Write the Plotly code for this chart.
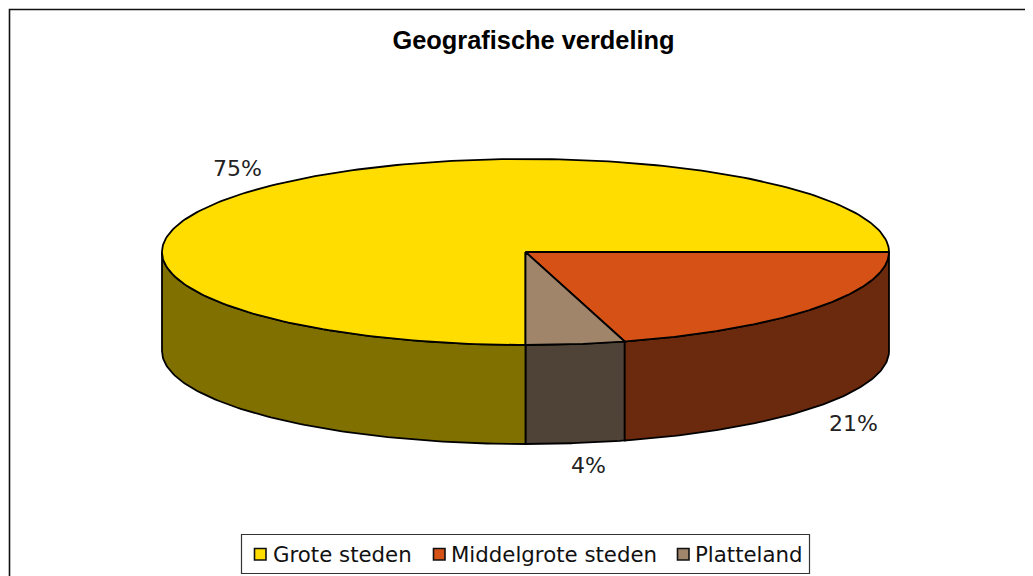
import numpy as np
import plotly.graph_objects as go

categories = ["Grote steden", "Middelgrote steden", "Platteland"]
values = [75.0, 20.6, 4.4]
labels = ["75%", "21%", "4%"]
top_colors = ["#FFDD00", "#D55116", "#A0856B"]
side_colors = ["#807000", "#6B2A0D", "#4F4236"]

# The page keeps an 8px body margin, so the figure covers 8..1033 and 8..576.
W, H, PAGE = 1033, 576, 8
CX, CY, RX, RY, DEPTH = 525.5, 252, 363.5, 93, 99
OUT = "#000000"
FONT = "'DejaVu Sans', sans-serif"

fig = go.Figure()


def pt(theta, drop=0.0):
    # theta: degrees clockwise from 12 o'clock
    t = np.radians(theta)
    return CX + RX * np.sin(t), CY - RY * np.cos(t) + drop


# slices start at 6 o'clock and run clockwise
edges = 180 + np.cumsum([0] + values) * 3.6


def poly(xs, ys, fill, lw=1.8):
    fig.add_trace(go.Scatter(x=xs, y=ys, mode="lines", fill="toself", fillcolor=fill,
                             line=dict(color=OUT, width=lw), hoverinfo="skip",
                             showlegend=False))


# side walls: only the front half of the rim (90..270 degrees) is visible
for i in range(len(values) - 1, -1, -1):
    a0, a1 = edges[i], edges[i + 1]
    for s, e in [(a0, a1), (a0 - 360, a1 - 360)]:
        s2, e2 = max(s, 90), min(e, 270)
        if e2 > s2:
            th = np.linspace(s2, e2, 90)
            xt, yt = pt(th)
            xb, yb = pt(th[::-1], DEPTH)
            poly(np.r_[xt, xb, xt[0]], np.r_[yt, yb, yt[0]], side_colors[i])

# top faces
for i in range(len(values)):
    th = np.linspace(edges[i], edges[i + 1], 240)
    xt, yt = pt(th)
    poly(np.r_[CX, xt, CX], np.r_[CY, yt, CY], top_colors[i])

# data labels
label_font = dict(family=FONT, size=22, color="#222222")
for txt, lx, ly in zip(labels, [237, 853, 588], [168, 423, 465]):
    fig.add_annotation(x=lx, y=ly, text=txt, showarrow=False, font=label_font,
                       xref="x", yref="y")

fig.update_layout(
    width=W - PAGE, height=H - PAGE, margin=dict(l=0, r=0, t=0, b=0),
    paper_bgcolor="white", plot_bgcolor="white", showlegend=False,
    xaxis=dict(range=[PAGE, W], visible=False, fixedrange=True),
    yaxis=dict(range=[H, PAGE], visible=False, fixedrange=True),
    title=dict(text="<b>Geografische verdeling</b>", x=(533.5 - PAGE) / (W - PAGE),
               xanchor="center", y=1 - (40 - PAGE) / (H - PAGE), yanchor="middle",
               font=dict(family="'Liberation Sans', Arial, sans-serif", size=25.4,
                         color="#000000")),
)

# chart frame (runs off the right and bottom of the picture)
fig.add_shape(type="rect", xref="x", yref="y", x0=9.5, y0=9.5, x1=1050, y1=600,
              line=dict(color="#111111", width=1.6), layer="below")
# legend frame
fig.add_shape(type="rect", xref="x", yref="y", x0=241.5, y0=534.5, x1=809.5, y1=573.5,
              line=dict(color="#333333", width=1.2), fillcolor="white")
swatches = [(254.5, 266), (433.5, 445), (677.5, 689)]
legend_text_x = [271, 449, 693]
for c, tc, (a, b), tx in zip(categories, top_colors, swatches, legend_text_x):
    fig.add_shape(type="rect", xref="x", yref="y", x0=a, x1=b, y0=548.5, y1=560,
                  line=dict(color="#111111", width=1.6), fillcolor=tc)
    fig.add_annotation(x=tx, y=554.5, text=c, xanchor="left", showarrow=False,
                       xref="x", yref="y",
                       font=dict(family=FONT, size=21.3, color="#111111"))

fig.write_html("out.html", config={"displayModeBar": False})
